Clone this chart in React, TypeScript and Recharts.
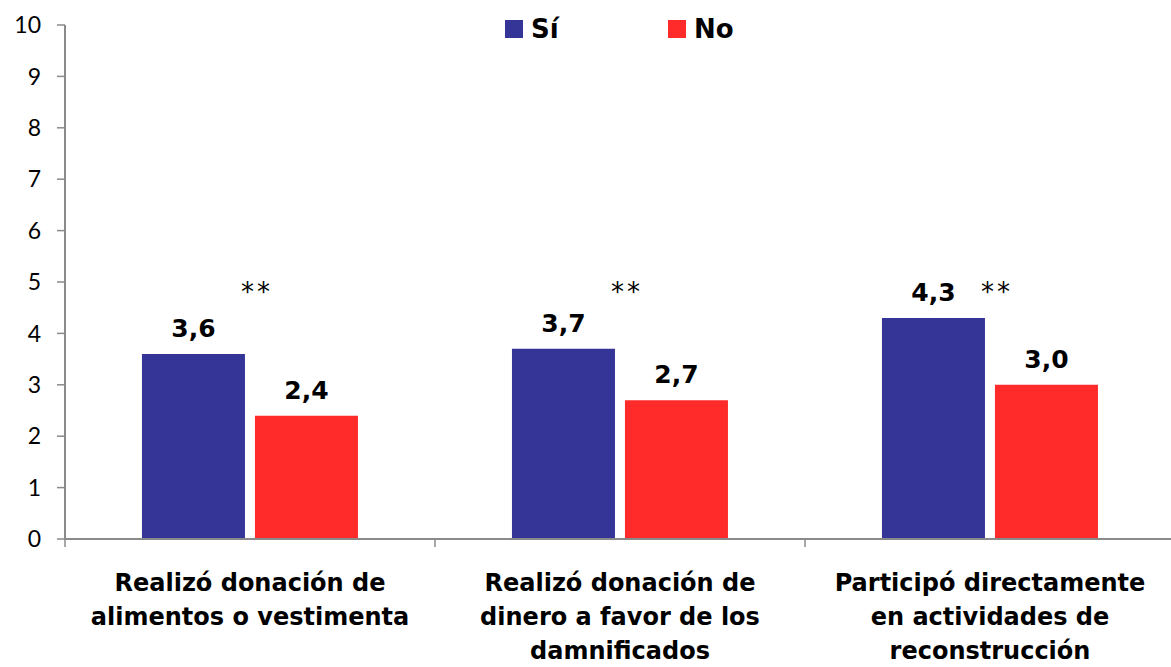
import { BarChart, Bar, XAxis, YAxis, LabelList, ReferenceDot } from 'recharts';

const categories = [
  'Realizó donación de alimentos o vestimenta',
  'Realizó donación de dinero a favor de los damnificados',
  'Participó directamente en actividades de reconstrucción',
];
const categoryLines = [
  ['Realizó donación de', 'alimentos o vestimenta'],
  ['Realizó donación de', 'dinero a favor de los', 'damnificados'],
  ['Participó directamente', 'en actividades de', 'reconstrucción'],
];
const siValues = [3.6, 3.7, 4.3];
const noValues = [2.4, 2.7, 3.0];
const significance = ['**', '**', '**'];
const yTicks = [0, 1, 2, 3, 4, 5, 6, 7, 8, 9, 10];

const BLUE = '#353597';
const RED = '#FF2A2A';
const AXIS = '#8a8a8a';
const FONT = 'Lato, "Open Sans", sans-serif';
const BOLD = '"DejaVu Sans", Lato, sans-serif';

const data = categories.map((name, i) => ({
  name,
  si: siValues[i],
  no: noValues[i],
}));

const fmt = (v: number) => v.toFixed(1).replace('.', ',');

const CategoryTick = (props: any) => {
  const { x, y, payload, index } = props;
  const off = payload?.offset ?? 0;
  const lines = categoryLines[index] ?? [String(payload.value)];
  return (
    <g>
      <line x1={x - off} x2={x - off} y1={y - 8} y2={y} stroke={AXIS} strokeWidth={1.5} />
      <text x={x} y={y + 44} textAnchor="middle" fontFamily={BOLD} fontWeight={700} fontSize={24} fill="#000">
        {lines.map((l, i) => (
          <tspan key={i} x={x} dy={i === 0 ? 0 : 34}>
            {l}
          </tspan>
        ))}
      </text>
    </g>
  );
};

const legendItems = [
  { label: 'Sí', color: BLUE },
  { label: 'No', color: RED },
];

export default function App() {
  return (
    <div style={{ position: 'absolute', left: 0, top: 0, width: 1171, height: 667, overflow: 'hidden', background: '#fff' }}>
      <BarChart
        width={1175}
        height={667}
        data={data}
        margin={{ top: 25, right: 0, bottom: 0, left: 0 }}
        barCategoryGap="20.8%"
        barGap={10}
      >
        <XAxis
          dataKey="name"
          height={128}
          axisLine={{ stroke: AXIS, strokeWidth: 2 }}
          tickLine={false}
          interval={0}
          tick={<CategoryTick />}
        />
        <YAxis
          width={65}
          domain={[0, 10]}
          ticks={yTicks}
          interval={0}
          axisLine={{ stroke: AXIS, strokeWidth: 2 }}
          tickLine={{ stroke: AXIS, strokeWidth: 1.5 }}
          tickSize={8}
          tickMargin={16}
          tick={{ fontFamily: FONT, fontSize: 23, fill: '#000' }}
        />
        <Bar dataKey="si" name="Sí" fill={BLUE} isAnimationActive={false}>
          <LabelList dataKey="si" position="top" offset={17} formatter={(v: any) => fmt(Number(v))} style={{ fontFamily: BOLD, fontWeight: 700, fontSize: 25, fill: '#000' }} />
        </Bar>
        <Bar dataKey="no" name="No" fill={RED} isAnimationActive={false}>
          <LabelList dataKey="no" position="top" offset={17} formatter={(v: any) => fmt(Number(v))} style={{ fontFamily: BOLD, fontWeight: 700, fontSize: 25, fill: '#000' }} />
        </Bar>
        {categories.map((c, i) => (
          <ReferenceDot
            key={c}
            x={c}
            y={4.9}
            r={0}
            fill="none"
            stroke="none"
            label={{ value: significance[i], position: 'center', dx: 7, dy: 5, fontFamily: '"DejaVu Sans"', fontSize: 26, letterSpacing: 3, fill: '#000' }}
          />
        ))}
      </BarChart>
      <div style={{ position: 'absolute', left: 505, top: 14, display: 'flex', fontFamily: BOLD, fontWeight: 700, fontSize: 26, color: '#000' }}>
        {legendItems.map((it) => (
          <div key={it.label} style={{ display: 'flex', alignItems: 'center', width: 163 }}>
            <span style={{ width: 18, height: 18, background: it.color, marginRight: 8, display: 'inline-block' }} />
            <span style={{ lineHeight: '30px' }}>{it.label}</span>
          </div>
        ))}
      </div>
    </div>
  );
}
